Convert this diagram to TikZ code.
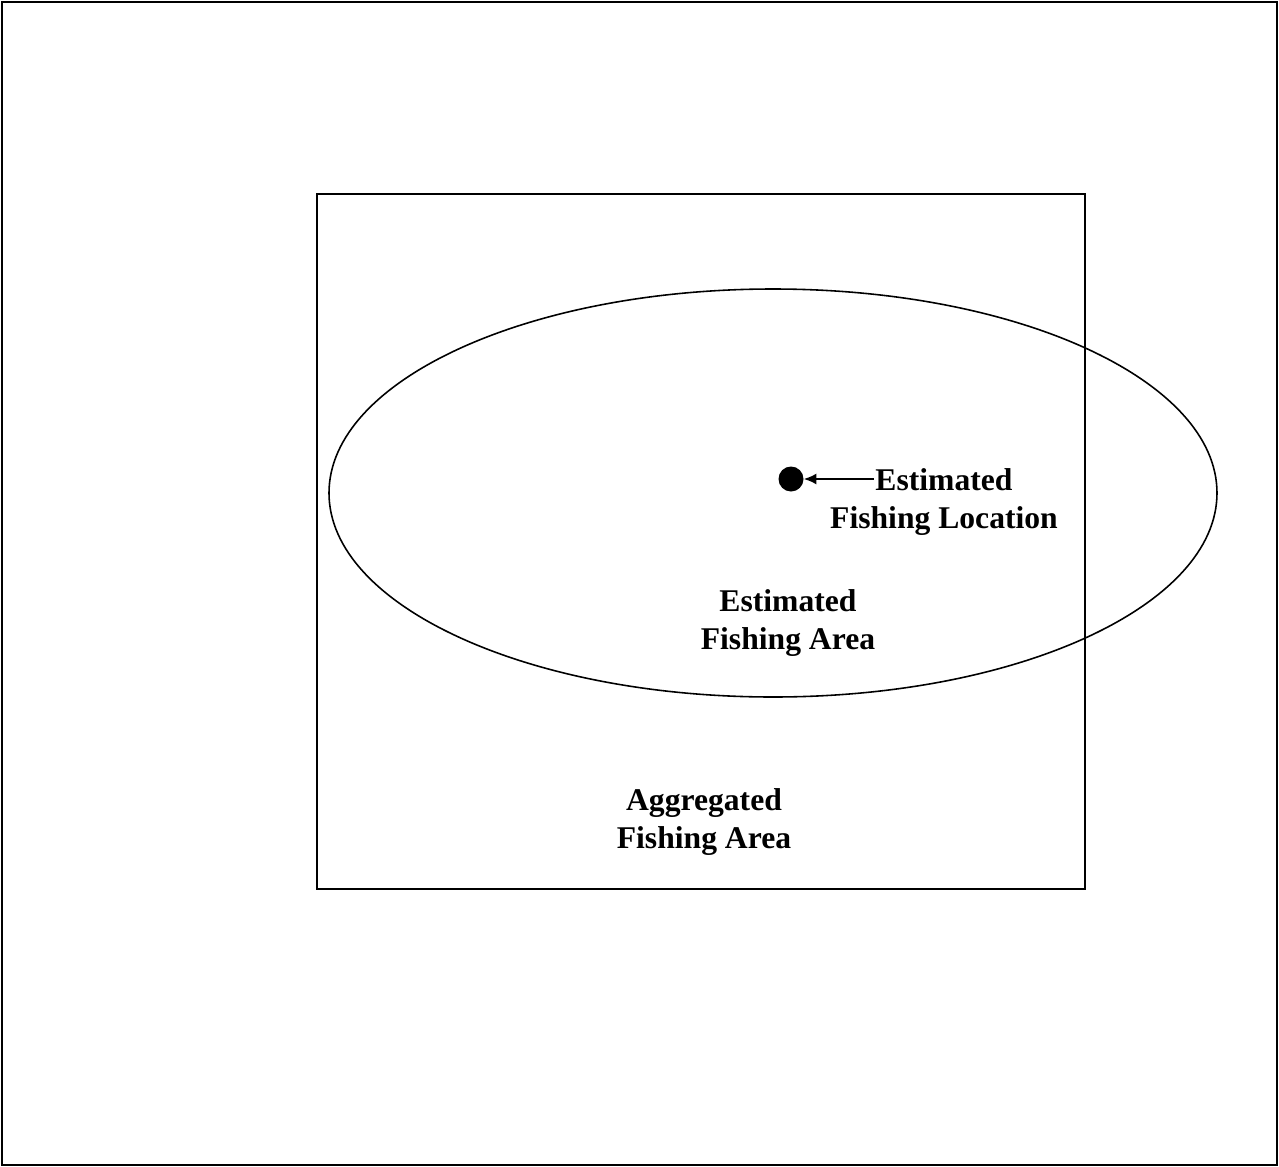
\documentclass[tikz,border=0pt]{standalone}
\usepackage{fontspec}
\setmainfont{Liberation Serif}
\usetikzlibrary{positioning,arrows.meta}

\begin{document}
\begin{tikzpicture}[
    x=0.02cm, y=-0.02cm,
    every node/.style={font=\bfseries\fontsize{18}{21.6}\selectfont},
    frame/.style={draw, line width=1.1pt},
    label/.style={align=center, inner sep=0pt},
    dot/.style={circle, fill, inner sep=0pt, minimum size=0.5cm}
]
\useasboundingbox (0,0) rectangle (1279,1167);

% 外框
\draw[frame] (2,2) rectangle (1277,1165);

% 汇总区域
\draw[frame] (317,194) rectangle (1085,889);
\node[label] (aggarea) at (704,822) {Aggregated\\Fishing Area};

% 估计区域
\draw[line width=0.9pt] (773,493) ellipse [x radius=444, y radius=204];
\node[label] (estarea) at (788,623) {Estimated\\Fishing Area};

% 估计位置
\node[dot] (estloc) at (791,479) {};
\node[label] (loclabel) at (944,502) {Estimated\\Fishing Location};
\coordinate (arrstart) at (874,479);
\draw[line width=1pt, -{Latex[length=0.25cm, width=0.22cm]}] (arrstart) -- (estloc);

\end{tikzpicture}
\end{document}
